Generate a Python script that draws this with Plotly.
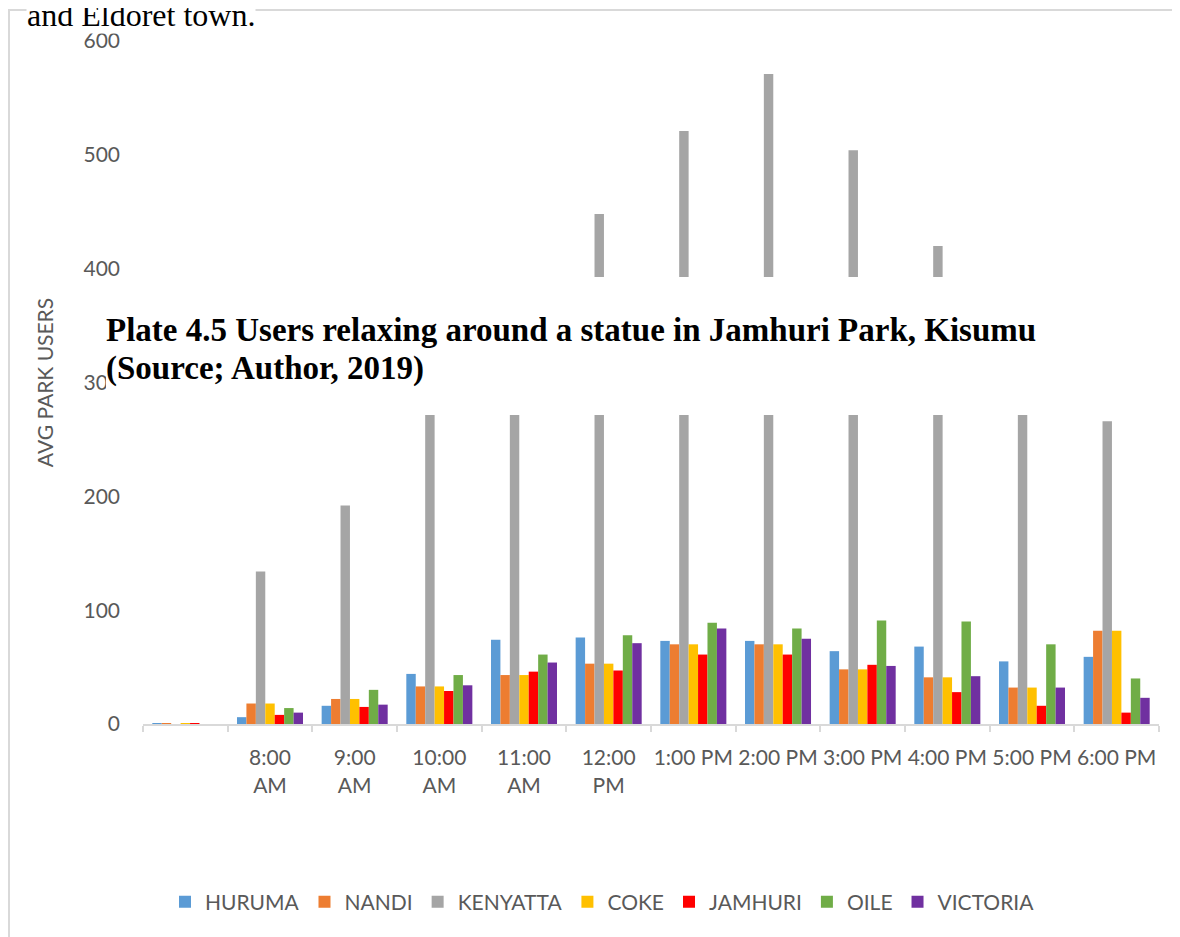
import plotly.graph_objects as go

# time slots (first category is blank in the source chart)
time_slots = [" ", "8:00 AM", "9:00 AM", "10:00 AM", "11:00 AM", "12:00 PM",
              "1:00 PM", "2:00 PM", "3:00 PM", "4:00 PM", "5:00 PM", "6:00 PM"]
tick_labels = ["", "8:00<br>AM", "9:00<br>AM", "10:00<br>AM", "11:00<br>AM", "12:00<br>PM",
               "1:00 PM", "2:00 PM", "3:00 PM", "4:00 PM", "5:00 PM", "6:00 PM"]

# average park users per park
huruma = [0.5, 6, 16, 44, 74, 76, 73, 73, 64, 68, 55, 59]
nandi = [0.5, 18, 22, 33, 43, 53, 70, 70, 48, 41, 32, 82]
kenyatta = [0, 134, 192, 290, 370, 448, 521, 571, 504, 420, 345, 266]
coke = [0.5, 18, 22, 33, 43, 53, 70, 70, 48, 41, 32, 82]
jamhuri = [0.5, 8, 15, 29, 46, 47, 61, 61, 52, 28, 16, 10]
oile = [0, 14, 30, 43, 61, 78, 89, 84, 91, 90, 70, 40]
victoria = [0, 10, 17, 34, 54, 71, 84, 75, 51, 42, 32, 23]

park_names = ["HURUMA", "NANDI", "KENYATTA", "COKE", "JAMHURI", "OILE", "VICTORIA"]
park_values = [huruma, nandi, kenyatta, coke, jamhuri, oile, victoria]
park_colors = ["#5B9BD5", "#ED7D31", "#A5A5A5", "#FFC000", "#FF0000", "#70AD47", "#7030A0"]

W, H = 1180, 937
OFF = 8  # page body margin
L, T = 143 - OFF, 41 - OFF
R = W - (1159 - OFF)
B = H - (724 - OFF)
pw, ph = W - L - R, H - T - B


def px_x(p):
    return (p - OFF - L) / pw


def px_y(p):
    return (H - B - (p - OFF)) / ph


axis_font = dict(family="Lato", size=21, color="#595959")

fig = go.Figure()
for name, vals, color in zip(park_names, park_values, park_colors):
    fig.add_trace(go.Bar(x=time_slots, y=vals, name=name,
                         marker=dict(color=color, line=dict(width=0))))

fig.update_layout(
    width=W, height=H,
    margin=dict(l=L, r=R, t=T, b=B),
    paper_bgcolor="white", plot_bgcolor="white",
    barmode="group", bargap=0.22, bargroupgap=0,
    legend=dict(orientation="h", x=px_x(165), xanchor="left", y=px_y(902), yanchor="middle",
                font=axis_font, bgcolor="rgba(0,0,0,0)"),
    xaxis=dict(type="category", tickvals=time_slots, ticktext=tick_labels, tickangle=0,
               ticks="outside", tickson="boundaries", ticklen=6, tickcolor="#D9D9D9", tickwidth=2,
               showline=True, linecolor="#D9D9D9", linewidth=2, showgrid=False,
               tickfont=axis_font, ticklabelstandoff=14, automargin=False),
    yaxis=dict(range=[0, 600], dtick=100, showgrid=False, zeroline=False, showline=False,
               tickfont=axis_font, ticklabelstandoff=22, automargin=False,
               title=dict(text="AVG PARK USERS", font=axis_font, standoff=24)),
    shapes=[
        # chart frame
        dict(type="rect", xref="paper", yref="paper", x0=px_x(9), x1=1.2, y0=-0.5, y1=px_y(10),
             line=dict(color="#D9D9D9", width=2), fillcolor="rgba(0,0,0,0)", layer="below"),
        # document band lying over the chart
        dict(type="rect", xref="paper", yref="paper", x0=px_x(106), x1=1.2, y0=px_y(415), y1=px_y(277),
             line=dict(width=0), fillcolor="white", layer="above"),
    ],
    annotations=[
        dict(text="and Eldoret town.", xref="paper", yref="paper", x=px_x(26), y=px_y(15),
             xanchor="left", yanchor="middle", showarrow=False, bgcolor="white", borderpad=0,
             font=dict(family="Liberation Serif", size=32, color="black")),
        dict(text="<b>Plate 4.5 Users relaxing around a statue in Jamhuri Park, Kisumu</b>",
             xref="paper", yref="paper", x=px_x(104), y=px_y(330),
             xanchor="left", yanchor="middle", showarrow=False,
             font=dict(family="Liberation Serif", size=33, color="black")),
        dict(text="<b>(Source; Author, 2019)</b>",
             xref="paper", yref="paper", x=px_x(104), y=px_y(368),
             xanchor="left", yanchor="middle", showarrow=False,
             font=dict(family="Liberation Serif", size=33, color="black")),
    ],
)

fig.write_html("out.html")
